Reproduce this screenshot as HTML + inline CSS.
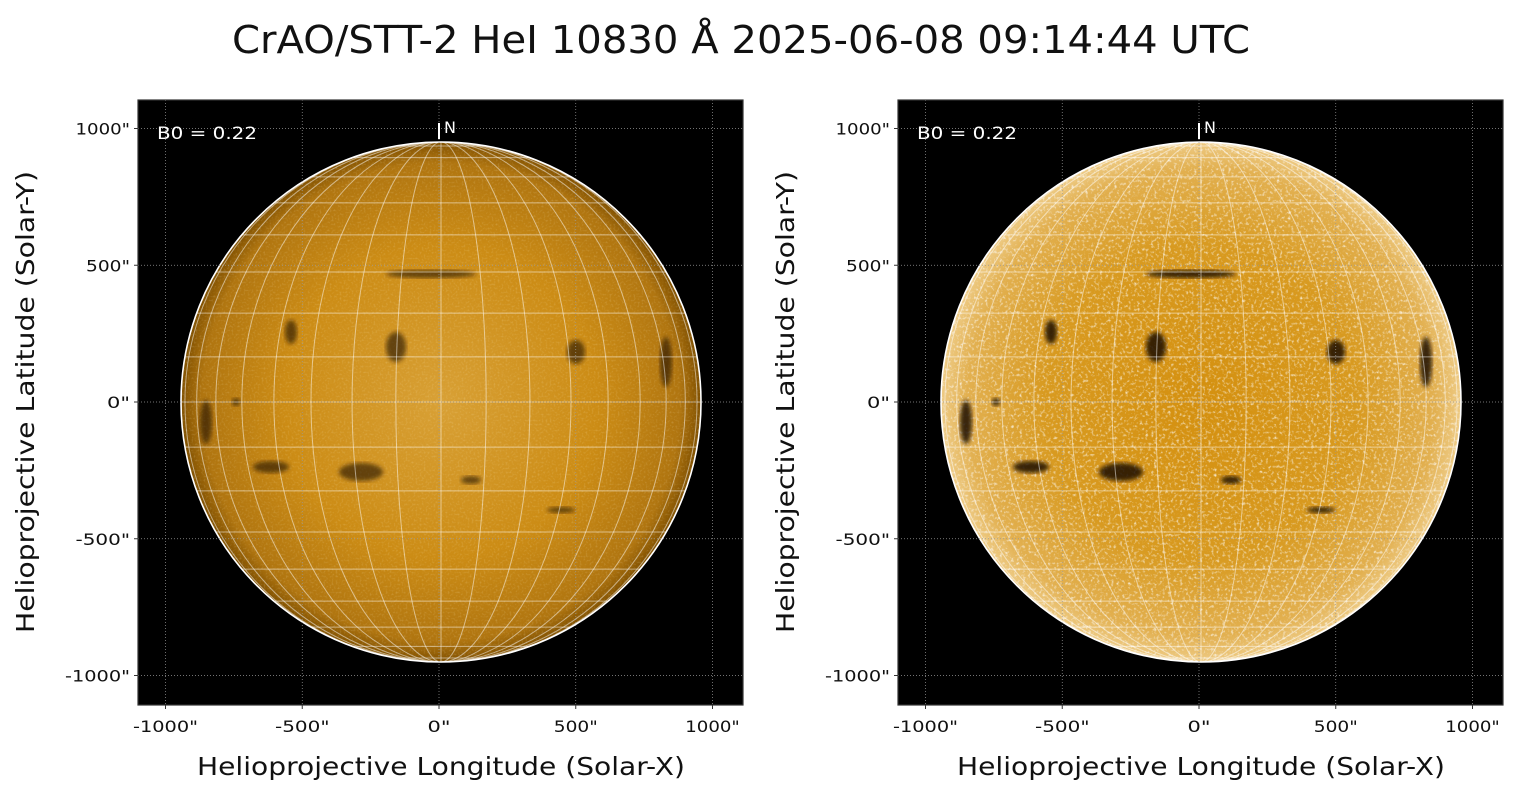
<!DOCTYPE html>
<html><head><meta charset="utf-8"><style>
html,body{margin:0;padding:0;background:#fff;}
svg{display:block;font-family:"DejaVu Sans","Liberation Sans",sans-serif;}
</style></head><body>
<svg id="s" width="1520" height="795" viewBox="0 0 1520 795" xmlns="http://www.w3.org/2000/svg">
<defs>
<radialGradient id="gL" cx="0.5" cy="0.5" r="0.5">
<stop offset="0" stop-color="#d8a035"/><stop offset="0.6" stop-color="#cc8c15"/><stop offset="0.92" stop-color="#b07510"/><stop offset="1" stop-color="#805000"/>
</radialGradient>
<radialGradient id="gR" cx="0.5" cy="0.5" r="0.5">
<stop offset="0" stop-color="#d4900f"/><stop offset="0.6" stop-color="#d89a20"/><stop offset="0.9" stop-color="#e2b050"/><stop offset="1" stop-color="#eecb85"/>
</radialGradient>
<filter id="blur"><feGaussianBlur stdDeviation="2"/></filter>
<filter id="tex" x="0" y="0" width="1" height="1">
<feTurbulence type="fractalNoise" baseFrequency="0.35" numOctaves="2" seed="3"/>
<feColorMatrix values="0 0 0 0 1  0 0 0 0 1  0 0 0 0 1  0 0 0 2.6 -1.35"/>
</filter>
<filter id="tex2" x="0" y="0" width="1" height="1">
<feTurbulence type="fractalNoise" baseFrequency="0.5" numOctaves="2" seed="7"/>
<feColorMatrix values="0 0 0 0 1  0 0 0 0 0.9  0 0 0 0 0.6  0 0 0 2 -1"/>
</filter>
</defs>
<text x="741" y="53" font-size="38" text-anchor="middle" fill="#111" textLength="1018" lengthAdjust="spacingAndGlyphs">CrAO/STT-2 HeI 10830 Å 2025-06-08 09:14:44 UTC</text>
</svg>
<script>
const s=document.getElementById('s');const NS='http://www.w3.org/2000/svg';
function el(t,a,p){const e=document.createElementNS(NS,t);for(const k in a)e.setAttribute(k,a[k]);(p||s).appendChild(e);return e;}
function txt(str,a){const e=el('text',Object.assign({fill:'#111',lengthAdjust:'spacingAndGlyphs'},a));e.textContent=str;return e;}
function panel(x0,right){
 const y0=100,W=605,cx=x0+303,cy=402,R=260,k=0.2735;
 el('rect',{x:x0,y:y0,width:W,height:W,fill:'#000'});
 const g=el('g',{});
 el('circle',{cx,cy,r:R,fill:right?'url(#gR)':'url(#gL)'},g);
 const cp=el('clipPath',{id:'c'+x0});el('circle',{cx,cy,r:R},cp);
 const t=el('g',{'clip-path':'url(#c'+x0+')'},g);
 if(right){el('rect',{x:cx-R,y:cy-R,width:2*R,height:2*R,filter:'url(#tex)',opacity:0.75},t);}
 else{el('rect',{x:cx-R,y:cy-R,width:2*R,height:2*R,filter:'url(#tex2)',opacity:0.25},t);}
 const dk=right?0.85:0.6;
 [[-10,-128,45,4],[-45,-55,10,15],[135,-50,9,12],[225,-40,6,25],[-80,70,22,9],[-170,65,18,6],[30,78,10,4],[120,108,14,3],[-235,20,6,22],[-150,-70,6,12],[-205,0,4,4]].forEach(d=>{
  el('ellipse',{cx:cx+d[0],cy:cy+d[1],rx:d[2],ry:d[3],fill:'#1a0d00',opacity:dk,filter:'url(#blur)'},t);});
 for(let lon=-80;lon<=80;lon+=10){const rx=Math.abs(R*Math.sin(lon*Math.PI/180));
  if(lon==0)el('line',{x1:cx,y1:cy-R,x2:cx,y2:cy+R,stroke:'#fff','stroke-opacity':0.5,'stroke-width':1},t);
  else el('path',{d:`M${cx} ${cy-R} A${rx} ${R} 0 0 ${lon>0?1:0} ${cx} ${cy+R}`,fill:'none',stroke:'#fff','stroke-opacity':0.5,'stroke-width':1},t);}
 for(let lat=-80;lat<=80;lat+=10){const y=cy-R*Math.sin(lat*Math.PI/180),w=R*Math.cos(lat*Math.PI/180);
  el('line',{x1:cx-w,y1:y,x2:cx+w,y2:y,stroke:'#fff','stroke-opacity':0.5,'stroke-width':1},t);}
 el('circle',{cx,cy,r:R,fill:'none',stroke:'#fff','stroke-width':1.6},g);
 [-1000,-500,0,500,1000].forEach(v=>{const x=cx+v*k-2,y=cy-v*k;
  el('line',{x1:x,y1:y0,x2:x,y2:y0+W,stroke:'#999','stroke-width':0.7,'stroke-dasharray':'1,2'});
  el('line',{x1:x0,y1:y,x2:x0+W,y2:y,stroke:'#999','stroke-width':0.7,'stroke-dasharray':'1,2'});
  el('line',{x1:x,y1:y0+W,x2:x,y2:y0+W+4,stroke:'#333'});
  el('line',{x1:x0-4,y1:y,x2:x0,y2:y,stroke:'#333'});
  const lbl=v+'"';const L=lbl.length*10.5+2;
  txt(lbl,{x:x,y:y0+W+27,'font-size':16,'text-anchor':'middle',textLength:L});
  txt(lbl,{x:x0-8,y:y+6,'font-size':16,'text-anchor':'end',textLength:L});});
 el('rect',{x:x0,y:y0,width:W,height:W,fill:'none',stroke:'#333','stroke-width':1.2});
 txt('B0 = 0.22',{x:x0+19,y:139,'font-size':17,fill:'#fff',textLength:100});
 el('line',{x1:cx-2,y1:123,x2:cx-2,y2:139,stroke:'#fff','stroke-width':2});
 txt('N',{x:cx+3,y:133,'font-size':16,fill:'#fff'});
 txt('Helioprojective Longitude (Solar-X)',{x:cx,y:775,'font-size':25,'text-anchor':'middle',textLength:488});
 txt('Helioprojective Latitude (Solar-Y)',{x:0,y:0,'font-size':25,'text-anchor':'middle',textLength:462,transform:`translate(${x0-104},${cy}) rotate(-90)`});
}
panel(138,false);panel(898,true);
</script>
</body></html>
